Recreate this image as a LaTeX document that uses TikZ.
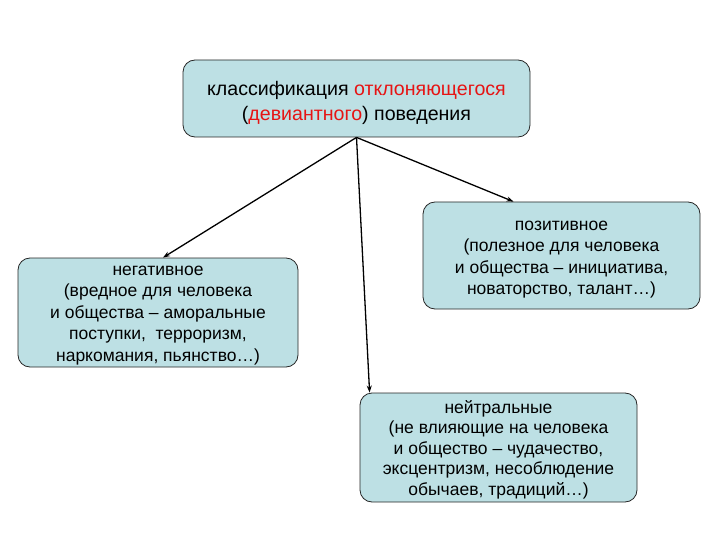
\documentclass[tikz,border=0pt]{standalone}
\usepackage{fontspec}
\setmainfont{Liberation Sans}
\usetikzlibrary{arrows.meta}
\definecolor{boxfill}{RGB}{189,224,228}
\definecolor{redtxt}{RGB}{230,20,20}
\tikzset{
  box/.style={draw=black!85, line width=0.8pt, fill=boxfill, rounded corners=12pt, inner sep=0pt},
  txt/.style={align=center, inner sep=0pt},
  conn/.style={line width=1.3pt, -{Stealth[length=7pt,width=5pt]}}
}
\begin{document}
\begin{tikzpicture}[x=1pt,y=-1pt]
\useasboundingbox (0,0) rectangle (720,540);
\node[box, minimum width=347pt, minimum height=77pt] (top) at (356.5,98.5) {};
\node[txt, font=\fontsize{19.6}{25}\selectfont] (toptxt) at ([yshift=-4pt]top.center)
  {классификация \textcolor{redtxt}{отклоняющегося}\\(\textcolor{redtxt}{девиантного}) поведения};
\node[box, minimum width=280pt, minimum height=109pt] (left) at (158,312.5) {};
\node[txt, font=\fontsize{17.5}{21.5}\selectfont] (lefttxt) at ([yshift=-3pt]left.center)
  {негативное\\(вредное для человека\\и общества – аморальные\\поступки,\ \ терроризм,\\наркомания, пьянство…)};
\node[box, minimum width=277pt, minimum height=107pt] (right) at (561.5,255.5) {};
\node[txt, font=\fontsize{17.5}{21.5}\selectfont] (righttxt) at ([yshift=-4pt]right.center)
  {позитивное\\(полезное для человека\\и общества – инициатива,\\новаторство, талант…)};
\node[box, minimum width=277pt, minimum height=109pt] (bot) at (498.5,447.5) {};
\node[txt, font=\fontsize{17.5}{20.5}\selectfont] (bottxt) at ([yshift=-2pt]bot.center)
  {нейтральные\\(не влияющие на человека\\и общество – чудачество,\\эксцентризм, несоблюдение\\обычаев, традиций…)};
\draw[conn] (top.south) -- ([xshift=5pt]left.north);
\draw[conn] (top.south) -- ([xshift=10pt]bot.north west);
\draw[conn] (top.south) -- ([xshift=-48pt]right.north);
\end{tikzpicture}
\end{document}
